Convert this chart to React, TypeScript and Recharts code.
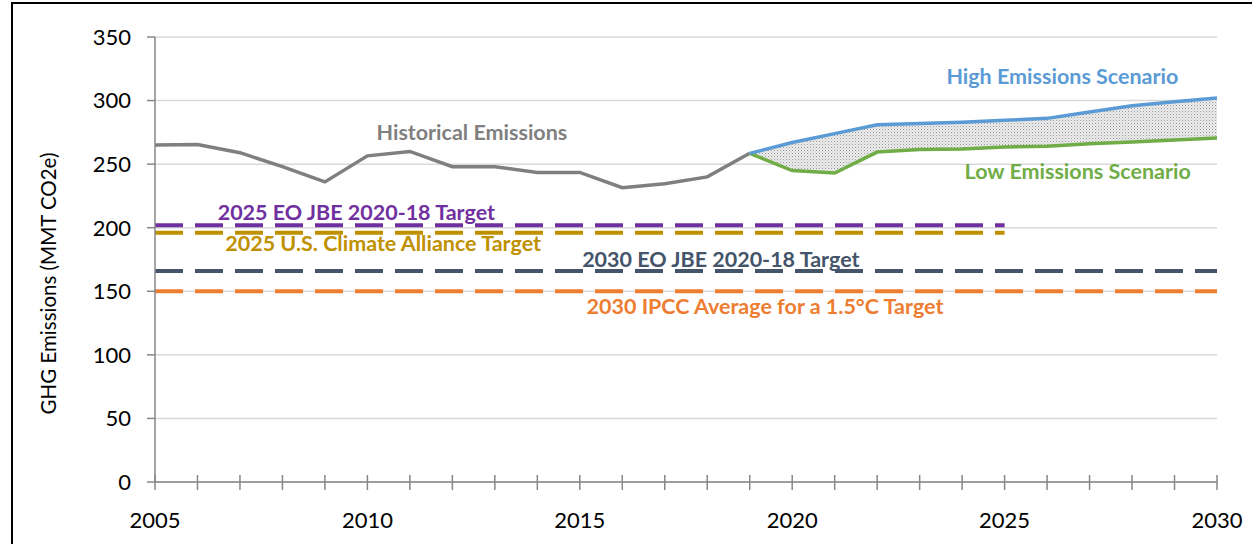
import {
  ComposedChart,
  Line,
  Area,
  XAxis,
  YAxis,
  CartesianGrid,
  ReferenceDot,
} from "recharts";

// years shown on the x axis
const years = [
  2005, 2006, 2007, 2008, 2009, 2010, 2011, 2012, 2013, 2014, 2015, 2016, 2017,
  2018, 2019, 2020, 2021, 2022, 2023, 2024, 2025, 2026, 2027, 2028, 2029, 2030,
];
const xTicks = years;
const yTicks = [0, 50, 100, 150, 200, 250, 300, 350];

// MMT CO2e, 2005-2019
const historical = [
  265, 265.5, 259, 248, 236, 256.5, 260, 248, 248, 243.5, 243.5, 231.5, 234.5,
  240, 258.5,
];

// scenarios run 2019-2030
const scenarioStart = 2019;
const highScenario = [258.5, 267, 274, 281, 282, 283, 284.5, 286, 291, 296, 299, 302];
const lowScenario = [258.5, 245, 243, 259.5, 261.5, 262, 263.5, 264, 266, 267.5, 269, 270.5];

// dashed target levels
const targetNames = [
  "2025 EO JBE 2020-18 Target",
  "2025 U.S. Climate Alliance Target",
  "2030 EO JBE 2020-18 Target",
  "2030 IPCC Average for a 1.5°C Target",
];
const targetValues = [202, 196, 166, 150];
const targetEndYears = [2025, 2025, 2030, 2030];
const targetColors = ["#7030A0", "#BF9000", "#44546A", "#ED7D31"];

const data = years.map((year, i) => {
  const si = year - scenarioStart;
  const hi = si >= 0 ? highScenario[si] : null;
  const lo = si >= 0 ? lowScenario[si] : null;
  const row: any = {
    year,
    historical: i < historical.length ? historical[i] : null,
    high: hi,
    low: lo,
    range: si >= 0 ? [lo, hi] : null,
  };
  targetValues.forEach((v, t) => {
    row["t" + t] = year <= targetEndYears[t] ? v : null;
  });
  return row;
});

// text annotations, placed in data coordinates
const annotations = [
  { text: "Historical Emissions", x: 2012.46, y: 274.6, color: "#7F7F7F" },
  { text: "High Emissions Scenario", x: 2026.36, y: 319.4, color: "#5B9BD5" },
  { text: "Low Emissions Scenario", x: 2026.72, y: 244.7, color: "#70AD47" },
  { text: targetNames[0], x: 2009.74, y: 211.8, color: targetColors[0] },
  { text: targetNames[1], x: 2010.37, y: 187.3, color: targetColors[1] },
  { text: targetNames[2], x: 2018.32, y: 175.2, color: targetColors[2] },
  { text: targetNames[3], x: 2019.36, y: 138.1, color: targetColors[3] },
];

const FONT = "Lato, 'Open Sans', sans-serif";
const AXIS = "#878787";

function XTick({ x, y, payload }: any) {
  const v = payload.value;
  return (
    <g>
      <line x1={x} x2={x} y1={y - 7} y2={y + 8} stroke={AXIS} strokeWidth={1.5} />
      {v % 5 === 0 && (
        <text x={x} y={y + 46} textAnchor="middle" fontSize={22} fill="#000" fontFamily={FONT}>
          {v}
        </text>
      )}
    </g>
  );
}

function YLabel({ viewBox }: any) {
  const cx = viewBox.x + 48;
  const cy = viewBox.y + viewBox.height / 2 + 24;
  return (
    <text
      x={0}
      y={0}
      transform={`translate(${cx},${cy}) rotate(-90)`}
      textAnchor="middle"
      dominantBaseline="central"
      fontSize={20.5}
      fill="#000"
      fontFamily={FONT}
    >
      GHG Emissions (MMT CO2e)
    </text>
  );
}

export default function App() {
  return (
    <div
      style={{
        position: "absolute",
        left: 0,
        top: 0,
        width: 1252,
        height: 544,
        background: "#fff",
        overflow: "hidden",
      }}
    >
      <div
        style={{
          position: "absolute",
          left: 11,
          top: 2,
          right: -4,
          bottom: -4,
          borderTop: "2px solid #000",
          borderLeft: "2px solid #000",
        }}
      />
      <ComposedChart
        width={1252}
        height={544}
        data={data}
        margin={{ top: 37, right: 35, left: 0, bottom: 0 }}
        style={{ position: "absolute", left: 0, top: 0 }}
      >
        <defs>
          <pattern id="dots" width="3" height="3" patternUnits="userSpaceOnUse">
            <rect width="3" height="3" fill="#ececec" />
            <rect width="1" height="1" fill="#999999" />
            <rect x="1.5" y="1.5" width="1" height="1" fill="#bdbdbd" />
          </pattern>
        </defs>
        <CartesianGrid vertical={false} stroke="#D9D9D9" strokeWidth={1.5} />
        <XAxis
          dataKey="year"
          type="number"
          domain={[2005, 2030]}
          ticks={xTicks}
          interval={0}
          height={62}
          stroke={AXIS}
          strokeWidth={1.5}
          tickLine={false}
          tickSize={0}
          tickMargin={0}
          tick={<XTick />}
        />
        <YAxis
          type="number"
          domain={[0, 350]}
          ticks={yTicks}
          interval={0}
          width={155}
          stroke={AXIS}
          strokeWidth={1.5}
          tickSize={8}
          tickMargin={16}
          tick={{ fontSize: 22, fill: "#000", fontFamily: FONT }}
          label={<YLabel />}
        />
        <Area
          dataKey="range"
          stroke="none"
          fill="url(#dots)"
          fillOpacity={1}
          isAnimationActive={false}
        />
        {targetValues.map((_, t) => (
          <Line
            key={t}
            dataKey={"t" + t}
            stroke={targetColors[t]}
            strokeWidth={4}
            strokeDasharray="28 12"
            dot={false}
            activeDot={false}
            isAnimationActive={false}
          />
        ))}
        <Line
          dataKey="historical"
          stroke="#7F7F7F"
          strokeWidth={3.5}
          dot={false}
          isAnimationActive={false}
        />
        <Line
          dataKey="low"
          stroke="#70AD47"
          strokeWidth={3.5}
          dot={false}
          isAnimationActive={false}
        />
        <Line
          dataKey="high"
          stroke="#5B9BD5"
          strokeWidth={3.5}
          dot={false}
          isAnimationActive={false}
        />
        {annotations.map((a) => (
          <ReferenceDot
            key={a.text}
            x={a.x}
            y={a.y}
            r={0}
            fill="none"
            stroke="none"
            label={{
              value: a.text,
              position: "center",
              fill: a.color,
              fontSize: 21.5,
              fontWeight: 700,
              fontFamily: FONT,
            }}
          />
        ))}
      </ComposedChart>
    </div>
  );
}
